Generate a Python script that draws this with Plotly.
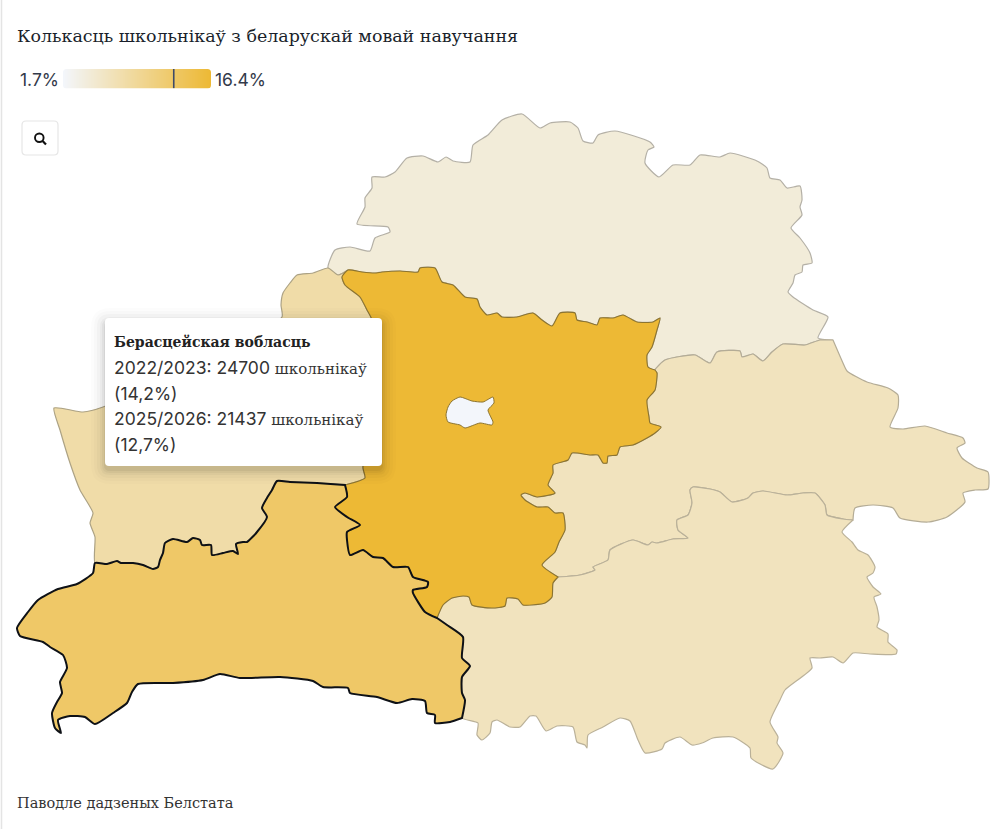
import plotly.graph_objects as go
from plotly.colors import sample_colorscale

# ---------- text ----------
TITLE = "Колькасць школьнікаў з беларускай мовай навучання"
SOURCE = "Паводле дадзеных Белстата"
TIP_HEAD = "Берасцейская вобласць"
TIP_ROWS = [("2022/2023: 24700", "школьнікаў"), ("(14,2%)", ""),
            ("2025/2026: 21437", "школьнікаў"), ("(12,7%)", "")]

# ---------- data ----------
REGIONS = ["Віцебская", "Магілёўская", "Гомельская", "Гродзенская", "Мінская", "Мінск", "Берасцейская"]
SHARE = [4.2, 6.2, 6.2, 7.85, 16.4, 1.7, 12.7]
SCALE_MIN, SCALE_MAX = 1.7, 16.4
MARK_VALUE = 12.7
RAMP_COLORS = ["#F3F6FB", "#EDB935"]

# ---------- outlines (shared border arcs) ----------
BREST_NORTH = [(95,563),(107,564),(117,561),(121,563),(133,563),(143,565),(153,569),(158,567),(160,560),(163,553),(165,543),(173,539),(187,542),(193,538),(200,540),(202,545),(211,545),(212,555),(223,553),(233,551),(238,554),(236,544),(243,542),(247,542),(257,532),(267,517),(262,508),(267,498),(272,490),(277,481),(290,482),(317,483),(345,485)]
BREST_MINSK = [(345,485),(347,497),(335,507),(347,517),(360,525),(347,532),(347,540),(350,555),(363,550),(373,557),(383,558),(393,567),(408,567),(413,577),(428,582),(427,587),(413,590),(413,593),(425,612),(437,618)]
BREST_GOMEL = [(437,618),(447,625),(463,637),(462,658),(470,666),(462,677),(462,693),(465,700),(462,718)]
BREST_SOUTH = [(462,718),(450,722),(435,723),(435,715),(427,713),(425,701),(412,699),(397,703),(377,697),(350,693),(348,688),(323,687),(313,681),(280,677),(240,678),(220,674),(203,680),(173,683),(138,684),(132,692),(127,703),(113,713),(95,724),(85,717),(70,716),(58,720),(61,733),(55,728),(52,713),(57,702),(62,693),(60,682),(67,668),(63,655),(50,647),(43,642),(20,636),(17,628),(28,612),(38,600),(58,589),(77,584),(93,573),(95,563)]
GRODNO_OUTER = [(95,563),(95,537),(90,523),(93,513),(80,490),(70,463),(60,430),(54,408),(83,412),(103,407),(200,360),(282,317),(281,305),(283,293),(290,283),(297,275),(313,273),(328,268),(338,275),(343,273),(348,270)]
MINSK_WEST = [(348,270),(342,277),(345,285),(360,297),(367,310),(372,320),(370,400),(363,468),(365,478),(345,485)]
MINSK_NORTH = [(348,270),(362,272),(375,273),(382,272),(400,271),(418,272),(420,268),(435,268),(442,282),(453,285),(465,297),(477,299),(480,307),(487,315),(497,313),(502,317),(517,317),(533,313),(542,320),(552,326),(560,313),(575,313),(577,320),(587,322),(597,325),(600,318),(613,318),(623,315),(637,322),(653,322),(660,318),(657,330)]
MINSK_EAST_A = [(657,330),(652,347),(647,355),(648,367),(655,370)]
MINSK_EAST_B = [(655,370),(657,373),(655,390),(647,400),(649,417),(650,423),(661,427),(655,433),(647,438),(633,445),(620,447),(617,455),(608,456),(607,463),(603,463),(598,455),(590,455),(572,453),(568,460),(553,465),(553,473),(548,485),(555,493),(537,497),(525,493),(521,495),(525,500),(537,507),(548,507),(555,513),(563,513),(565,530),(559,542),(555,552),(542,565),(558,577)]
MINSK_SOUTH = [(558,577),(553,583),(552,597),(545,603),(523,605),(518,599),(507,598),(505,606),(492,608),(472,605),(469,597),(463,596),(452,598),(443,605),(437,618)]
VITEBSK_OUTER = [(348,270),(343,273),(338,275),(328,268),(335,250),(350,247),(370,251),(375,238),(390,232),(388,227),(357,224),(365,207),(365,198),(372,188),(372,177),(385,177),(395,172),(407,158),(423,156),(438,162),(446,157),(453,161),(470,162),(473,145),(488,135),(502,120),(522,114),(540,128),(550,123),(570,122),(578,128),(583,141),(593,143),(598,135),(615,131),(650,142),(654,147),(648,150),(645,163),(659,177),(673,165),(690,165),(700,155),(720,157),(730,153),(757,161),(767,168),(770,178),(780,180),(787,188),(800,186),(802,200),(800,207),(802,215),(791,228),(800,238),(810,253),(812,263),(803,265),(802,272),(795,275),(793,283),(788,292),(793,297),(813,310),(828,317),(818,338),(833,340)]
VITEBSK_MOGILEV = [(655,370),(665,360),(695,355),(710,363),(717,352),(740,351),(742,357),(753,354),(763,361),(772,352),(783,344),(805,345),(820,340),(833,340)]
MOGILEV_EAST = [(833,340),(843,363),(847,371),(867,382),(888,388),(898,395),(898,408),(890,427),(903,429),(925,426),(947,433),(963,438),(965,443),(957,448),(962,458),(977,468),(988,472),(988,489),(975,490),(963,493),(965,502),(947,517),(928,522),(900,518),(893,508),(873,505),(855,508),(853,520)]
MOGILEV_GOMEL = [(853,520),(843,519),(827,515),(825,505),(815,493),(803,493),(787,495),(763,491),(753,493),(748,498),(732,502),(720,492),(710,489),(693,487),(690,490),(692,503),(688,515),(677,520),(678,530),(688,538),(673,539),(657,543),(652,542),(648,545),(633,540),(610,550),(608,560),(593,567),(595,570),(580,575),(558,577)]
GOMEL_OUTER = [(462,718),(478,723),(477,735),(482,740),(490,733),(492,722),(497,720),(510,727),(520,727),(530,716),(536,716),(546,731),(557,726),(573,727),(577,742),(585,745),(587,748),(588,735),(603,727),(620,718),(630,721),(638,740),(645,753),(662,749),(665,743),(680,737),(692,745),(702,743),(713,738),(733,737),(750,748),(751,758),(773,769),(783,753),(777,743),(778,737),(770,722),(780,700),(785,690),(812,668),(810,658),(820,658),(833,657),(843,663),(853,653),(870,654),(896,654),(897,650),(888,642),(888,634),(877,627),(879,620),(877,607),(874,597),(881,594),(873,587),(867,577),(873,573),(875,567),(868,555),(858,550),(852,542),(842,532),(853,520)]
CITY_HOLE = [(448,407),(452,401),(460,397),(472,401),(483,402),(493,397),(494,403),(488,410),(493,422),(492,425),(480,423),(465,428),(460,425),(448,422),(446,415),(448,407)]


def chain(*arcs):
    pts = []
    for arc, rev in arcs:
        pts += list(reversed(arc)) if rev else list(arc)
    return [p[0] for p in pts], [p[1] for p in pts]


OUTLINES = {
    "Віцебская": chain((VITEBSK_OUTER, False), (VITEBSK_MOGILEV, True), (MINSK_EAST_A, True), (MINSK_NORTH, True)),
    "Магілёўская": chain((VITEBSK_MOGILEV, False), (MOGILEV_EAST, False), (MOGILEV_GOMEL, False), (MINSK_EAST_B, True)),
    "Гомельская": chain((GOMEL_OUTER, False), (MOGILEV_GOMEL, False), (MINSK_SOUTH, False), (BREST_GOMEL, False)),
    "Гродзенская": chain((GRODNO_OUTER, False), (MINSK_WEST, False), (BREST_NORTH, True)),
    "Мінская": chain((MINSK_NORTH, False), (MINSK_EAST_A, False), (MINSK_EAST_B, False), (MINSK_SOUTH, False), (BREST_MINSK, True), (MINSK_WEST, True)),
    "Мінск": chain((CITY_HOLE, False)),
    "Берасцейская": chain((BREST_NORTH, False), (BREST_MINSK, False), (BREST_GOMEL, False), (BREST_SOUTH, False)),
}
LINE_STYLE = {"Віцебская": ("#B4B0A6", 1.2), "Магілёўская": ("#B4AC96", 1.2), "Гомельская": ("#BAB199", 1.2),
              "Гродзенская": ("#ACA284", 1.2), "Мінская": ("#8C7430", 1.1), "Мінск": ("#8C7430", 1.0),
              "Берасцейская": ("#0E1116", 2.0)}

RAMP = [[0, RAMP_COLORS[0]], [1, RAMP_COLORS[1]]]


def colour(v):
    return sample_colorscale(RAMP, [(v - SCALE_MIN) / (SCALE_MAX - SCALE_MIN)])[0]


fig = go.Figure()
for name, value in zip(REGIONS, SHARE):
    xs, ys = OUTLINES[name]
    c, w = LINE_STYLE[name]
    fig.add_trace(go.Scatter(x=xs, y=ys, mode="lines", fill="toself", fillcolor=colour(value),
                             line=dict(color=c, width=w, shape="spline", smoothing=0.55),
                             name=name, hoverinfo="name", showlegend=False))

# legend ramp on its own axis, so the tick sits at its value
steps = [SCALE_MIN + (SCALE_MAX - SCALE_MIN) * i / 147 for i in range(148)]
fig.add_trace(go.Heatmap(x=steps, y=[0], z=[steps], zmin=SCALE_MIN, zmax=SCALE_MAX, colorscale=RAMP,
                         showscale=False, xaxis="x2", yaxis="y2", hoverinfo="skip"))
fig.add_trace(go.Scatter(x=[MARK_VALUE, MARK_VALUE], y=[-0.5, 0.5], mode="lines", line=dict(color="#3E4A68", width=1.6),
                         xaxis="x2", yaxis="y2", showlegend=False, hoverinfo="skip"))


def rrect(x0, y0, x1, y1, r):
    return (f"M{x0+r},{y0} L{x1-r},{y0} Q{x1},{y0} {x1},{y0+r} L{x1},{y1-r} Q{x1},{y1} {x1-r},{y1} "
            f"L{x0+r},{y1} Q{x0},{y1} {x0},{y1-r} L{x0},{y0+r} Q{x0},{y0} {x0+r},{y0} Z")


shapes = [dict(type="line", x0=1.5, x1=1.5, y0=0, y1=829, line=dict(color="#E4E4E4", width=1.5), layer="above")]
# rounded ends of the legend ramp
shapes.append(dict(type="path", path=rrect(62, 68, 212, 89.5, 4.5), line=dict(color="#FFFFFF", width=2), layer="above"))
# tooltip shadow and body
for grow, alpha in [(14, 0.012), (11, 0.016), (8, 0.022), (5, 0.03), (3, 0.04), (1, 0.05)]:
    shapes.append(dict(type="path", path=rrect(105 - grow, 318 - grow + 4, 382 + grow, 466 + grow + 4, 5 + grow),
                       fillcolor=f"rgba(0,0,0,{alpha})", line=dict(width=0), layer="above"))
shapes.append(dict(type="path", path=rrect(105, 318, 382, 466, 4), fillcolor="#FFFFFF", line=dict(width=0), layer="above"))
# zoom button
shapes.append(dict(type="path", path=rrect(22, 121, 58, 155, 4), fillcolor="#FFFFFF", line=dict(color="#E6E6E6", width=1.2), layer="above"))
shapes.append(dict(type="circle", x0=35, x1=43.6, y0=133.5, y1=142, line=dict(color="#111111", width=1.9), layer="above"))
shapes.append(dict(type="line", x0=42.6, x1=46, y0=141, y1=144.6, line=dict(color="#111111", width=2.2), layer="above"))

SERIF = "DejaVu Serif"
SANS = "Inter"


def note(x, y, text, size, family, color="#222222"):
    return dict(x=x, y=y, xref="x", yref="y", text=text, showarrow=False, xanchor="left", yanchor="middle",
                align="left", borderpad=0, font=dict(size=size, family=family, color=color))


notes = [
    note(15.5, 36, TITLE, 17.45, SERIF, "#1A1F2B"),
    note(19, 79, f"{SCALE_MIN}%", 17.5, SANS, "#333A4A"),
    note(214, 79, f"{SCALE_MAX}%", 17.5, SANS, "#333A4A"),
    note(15.5, 803, SOURCE, 14.5, SERIF, "#333333"),
    note(113, 342, f"<b>{TIP_HEAD}</b>", 14, SERIF, "#222222"),
]
for (a, b), y in zip(TIP_ROWS, [367, 393, 418, 444]):
    txt = a if not b else f'{a} <span style="font-family:{SERIF};font-size:15px">{b}</span>'
    notes.append(note(113, y, txt, 17.5, SANS, "#333333"))

fig.update_layout(
    width=1000, height=829, margin=dict(l=0, r=0, t=0, b=0), autosize=False,
    paper_bgcolor="#FFFFFF", plot_bgcolor="#FFFFFF", showlegend=False,
    shapes=shapes, annotations=notes,
    xaxis=dict(range=[0, 1000], visible=False, domain=[0, 1], fixedrange=True),
    yaxis=dict(range=[829, 0], visible=False, domain=[0, 1], fixedrange=True),
    xaxis2=dict(range=[SCALE_MIN, SCALE_MAX], visible=False, domain=[0.063, 0.211], anchor="y2", fixedrange=True),
    yaxis2=dict(range=[-0.5, 0.5], visible=False, domain=[1 - 88.5 / 829, 1 - 69 / 829], anchor="x2", fixedrange=True),
)
fig.write_html("out.html", config={"displayModeBar": False},
               post_script="document.body.style.margin='0';document.body.style.overflow='hidden';")
